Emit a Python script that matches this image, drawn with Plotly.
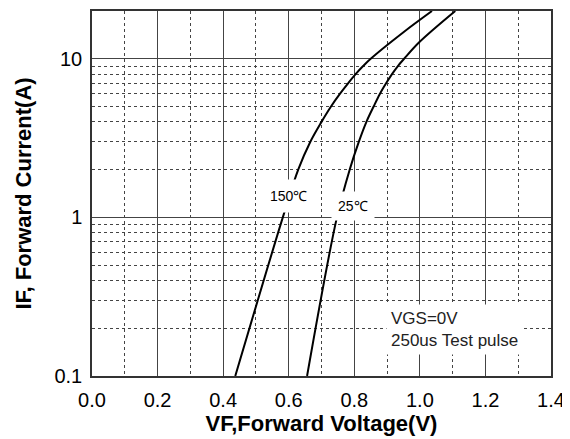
import numpy as np
import plotly.graph_objects as go

# 150C curve (VF in V, IF in A)
vf_150 = [0.437, 0.582, 0.629, 0.666, 0.700, 0.729, 0.756, 0.781, 0.804, 0.827, 0.850, 0.950, 1.037]
if_150 = [0.1, 1.0, 2.0, 3.0, 4.0, 5.0, 6.0, 7.0, 8.0, 9.0, 10.0, 14.7, 20.0]
# 25C curve
vf_25 = [0.656, 0.747, 0.786, 0.814, 0.837, 0.859, 0.878, 0.897, 0.915, 0.933, 0.952, 0.998, 1.108]
if_25 = [0.1, 1.0, 2.0, 3.0, 4.0, 5.0, 6.0, 7.0, 8.0, 9.0, 10.0, 12.7, 20.0]

x_ticks = [0.0, 0.2, 0.4, 0.6, 0.8, 1.0, 1.2, 1.4]
x_labels = ["0.0", "0.2", "0.4", "0.6", "0.8", "1.0", "1.2", "1.4"]
y_ticks = [0.1, 1, 10]
y_labels = ["0.1", "1", "10"]

fig = go.Figure()
for xs, ys in [(vf_150, if_150), (vf_25, if_25)]:
    fig.add_trace(go.Scatter(x=xs, y=ys, mode="lines",
                             line=dict(color="black", width=2, shape="spline", smoothing=1.0),
                             showlegend=False, hoverinfo="skip"))

grid_major = "#444444"
grid_minor = "#444444"
font_main = "Liberation Sans, Arial"
fig.update_xaxes(range=[0, 1.4], tickvals=x_ticks, ticktext=x_labels,
                 showgrid=True, gridcolor=grid_major, gridwidth=1,
                 minor=dict(dtick=0.1, showgrid=True, gridcolor=grid_minor, griddash="3px,3px", gridwidth=1, ticks=""),
                 showline=True, linecolor="#333333", linewidth=1.5, mirror=True,
                 ticks="", zeroline=False, ticklabelstandoff=5,
                 tickfont=dict(family=font_main, size=20, color="black"),
                 title=dict(text="<b>VF,Forward Voltage(V)</b>", standoff=6,
                            font=dict(family=font_main, size=22, color="black")))
fig.update_yaxes(type="log", range=[-1, np.log10(20)], tickvals=y_ticks, ticktext=y_labels,
                 showgrid=True, gridcolor=grid_major, gridwidth=1,
                 minor=dict(dtick="D1", showgrid=True, gridcolor=grid_minor, griddash="3px,3px", gridwidth=1, ticks=""),
                 showline=True, linecolor="#333333", linewidth=1.5, mirror=True,
                 ticks="", zeroline=False, ticklabelstandoff=4,
                 tickfont=dict(family=font_main, size=20, color="black"),
                 title=dict(text="<b>IF, Forward Current(A)</b>", standoff=17,
                            font=dict(family=font_main, size=22, color="black")))

fig.add_annotation(x=0.599, y=np.log10(1.36), text="150℃", showarrow=False,
                   bgcolor="white", borderpad=8,
                   font=dict(family=font_main, size=14, color="black"))
fig.add_annotation(x=0.795, y=np.log10(1.18), text="25℃", showarrow=False,
                   bgcolor="white", borderpad=6,
                   font=dict(family=font_main, size=14, color="black"))
fig.add_annotation(x=0.898, y=np.log10(0.1963), xanchor="left", yanchor="middle", align="left",
                   text="VGS=0V<br>250us Test pulse", showarrow=False,
                   bgcolor="white", borderpad=4,
                   font=dict(family=font_main, size=17, color="#222222"))

fig.update_layout(width=562, height=431, margin=dict(l=84, r=19, t=3, b=63, autoexpand=False),
                  plot_bgcolor="white", paper_bgcolor="white")
fig.write_html("out.html")
